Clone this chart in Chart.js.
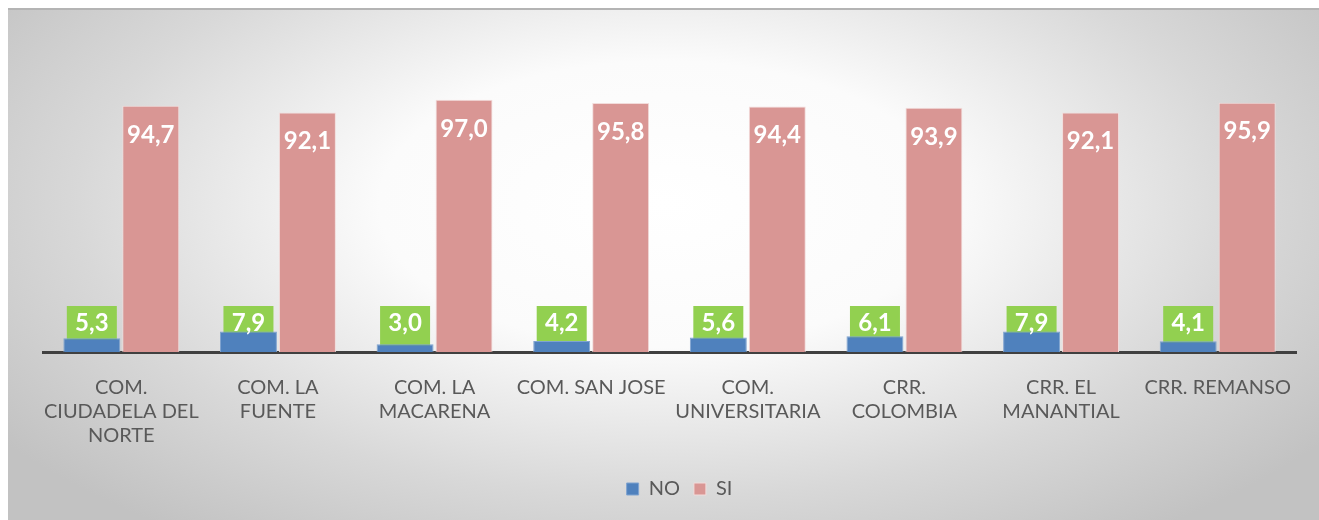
<!DOCTYPE html>
<html>
<head>
<meta charset="utf-8">
<script src="https://cdn.jsdelivr.net/npm/chart.js@4.4.1/dist/chart.umd.min.js"></script>
<style>
    html, body { margin: 0; padding: 0; background: #ffffff; }
    #panel {
        position: absolute;
        left: 8px;
        top: 8px;
        width: 1311px;
        height: 512px;
        border-top: 2px solid #b4b4b4;
        box-sizing: border-box;
        background: radial-gradient(ellipse 62% 80% at 50% 38%, #ffffff 0%, #fbfbfb 35%, #d8d8d8 72%, #c2c2c2 100%);
    }
    #chart { display: block; }
</style>
</head>
<body>
<div id="panel">
    <canvas id="chart" width="1311" height="510"></canvas>
</div>
<script>
// ─── DATA ──────────────────────────────────────────────────
const categories = [
    ["COM.", "CIUDADELA DEL", "NORTE"],
    ["COM. LA", "FUENTE"],
    ["COM. LA", "MACARENA"],
    ["COM. SAN JOSE"],
    ["COM.", "UNIVERSITARIA"],
    ["CRR.", "COLOMBIA"],
    ["CRR. EL", "MANANTIAL"],
    ["CRR. REMANSO"],
];
const seriesNames = ["NO", "SI"];
const noValues = [5.3, 7.9, 3.0, 4.2, 5.6, 6.1, 7.9, 4.1];
const siValues = [94.7, 92.1, 97.0, 95.8, 94.4, 93.9, 92.1, 95.9];

const fmt = v => v.toFixed(1).replace(".", ",");

// ─── VALUE LABELS ──────────────────────────────────────────
const valueLabels = {
    id: "valueLabels",
    afterLayout(chart) {
        // legend sits a little right of centre and higher in the original
        const lg = chart.legend;
        lg.left += 10; lg.right += 10;
        lg.top -= 3; lg.bottom -= 3;
    },
    beforeDatasetsDraw(chart) {
        // green boxes behind the NO bars
        const ctx = chart.ctx;
        const meta = chart.getDatasetMeta(0);
        const base = chart.scales.y.getPixelForValue(0);
        ctx.save();
        ctx.fillStyle = "#92d050";
        meta.data.forEach(bar => {
            ctx.fillRect(bar.x - 25, base - 46, 50, 46);
        });
        ctx.restore();
    },
    afterDatasetsDraw(chart) {
        const ctx = chart.ctx;
        const base = chart.scales.y.getPixelForValue(0);
        ctx.save();
        ctx.font = "bold 24px Lato";
        ctx.fillStyle = "#ffffff";
        ctx.textAlign = "center";
        ctx.textBaseline = "middle";
        chart.getDatasetMeta(0).data.forEach((bar, i) => {
            ctx.fillText(fmt(noValues[i]), bar.x, base - 29);
        });
        chart.getDatasetMeta(1).data.forEach((bar, i) => {
            ctx.fillText(fmt(siValues[i]), bar.x, bar.y + 29);
        });
        ctx.restore();
    },
};

new Chart(document.getElementById("chart"), {
    type: "bar",
    data: {
        labels: categories,
        datasets: [
            {
                label: seriesNames[0],
                data: noValues,
                backgroundColor: "#4f81bd",
                borderColor: "#7fa3d0",
                borderWidth: 1,
                categoryPercentage: 0.753,
                barPercentage: 0.966,
            },
            {
                label: seriesNames[1],
                data: siValues,
                backgroundColor: "#d99694",
                borderColor: "#f2dcdb",
                borderWidth: 1,
                categoryPercentage: 0.753,
                barPercentage: 0.966,
            },
        ],
    },
    options: {
        responsive: false,
        animation: false,
        layout: { padding: { left: 35, right: 23, top: 82, bottom: 8 } },
        plugins: {
            legend: {
                position: "bottom",
                labels: {
                    boxWidth: 12,
                    boxHeight: 12,
                    padding: 14,
                    color: "#595959",
                    font: { family: "Lato", size: 20 },
                },
            },
            tooltip: { enabled: false },
        },
        scales: {
            y: { display: false, min: 0, max: 100 },
            x: {
                grid: { display: false, drawTicks: false },
                border: { display: true, color: "#404040", width: 3 },
                ticks: {
                    color: "#595959",
                    font: { family: "Lato", size: 20, lineHeight: 1.22 },
                    padding: 23,
                    autoSkip: false,
                    maxRotation: 0,
                },
                afterFit(scale) { scale.height = 116; },
            },
        },
    },
    plugins: [valueLabels],
});
</script>
</body>
</html>
